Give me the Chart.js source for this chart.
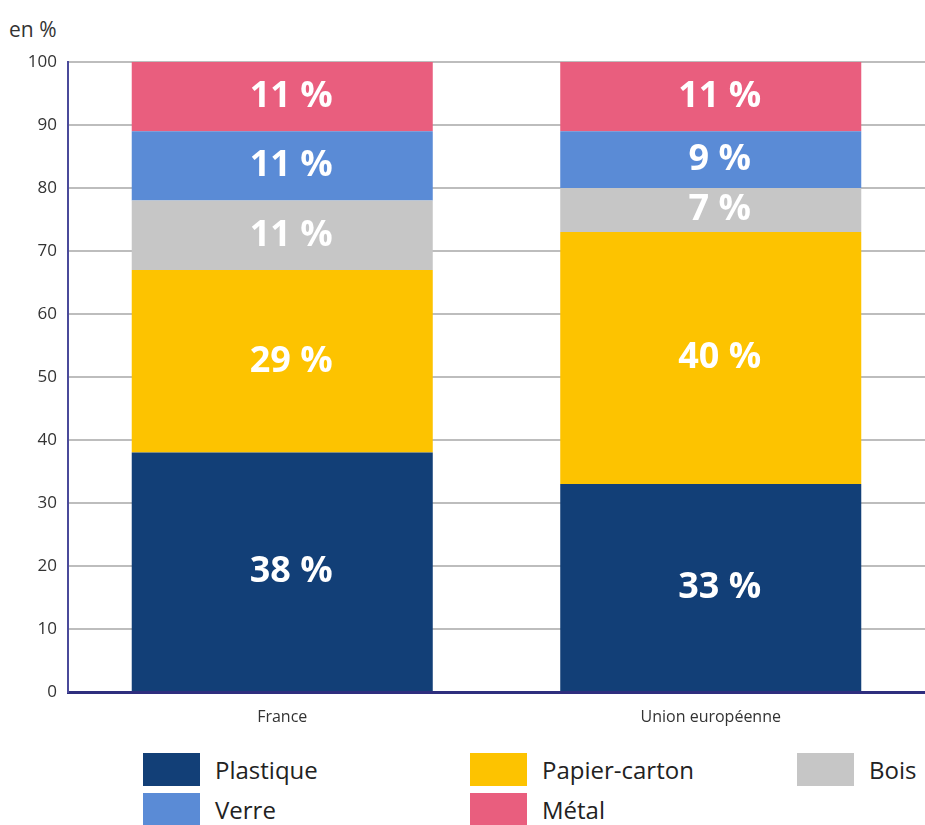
<!DOCTYPE html>
<html lang="fr">
<head>
<meta charset="utf-8">
<script src="https://cdn.jsdelivr.net/npm/chart.js@4/dist/chart.umd.min.js"></script>
<style>
  html, body { margin: 0; padding: 0; background: #fff; overflow: hidden; }
  body { width: 925px; height: 825px; position: relative; font-family: 'Open Sans', sans-serif; }
  #unit { position: absolute; left: 9px; top: 15px; font-size: 21px; color: #333; }
  #wrap { position: absolute; left: 0; top: 0; width: 925px; height: 740px; }
  #legend { position: absolute; left: 143px; top: 753px; display: grid;
            grid-template-columns: 327px 327px 140px; row-gap: 7px; }
  .item { display: flex; align-items: center; height: 33px; }
  .box { width: 57px; height: 33px; margin-right: 15px; flex: none; }
  .lab { font-size: 24px; color: #222; white-space: nowrap; }
</style>
</head>
<body>
<div id="unit">en %</div>
<div id="wrap"><canvas id="chart-waste"></canvas></div>
<div id="legend"></div>

<script>
// categories and series (share of packaging waste, %)
const zones = ['France', 'Union européenne'];
const materials = ['Plastique', 'Papier-carton', 'Bois', 'Verre', 'Métal'];
const plastique = [38, 33];
const papierCarton = [29, 40];
const bois = [11, 7];
const verre = [11, 9];
const metal = [11, 11];
const colors = ['#123f77', '#fdc300', '#c6c6c6', '#5a8bd6', '#e95e7e'];
const yTicks = [0, 10, 20, 30, 40, 50, 60, 70, 80, 90, 100];

const series = [plastique, papierCarton, bois, verre, metal];

// white labels in each segment
const segmentLabels = {
  id: 'segmentLabels',
  afterDatasetsDraw(chart) {
    const ctx = chart.ctx;
    ctx.save();
    ctx.fillStyle = '#fff';
    ctx.font = 'bold 36px "Open Sans"';
    ctx.textAlign = 'center';
    ctx.textBaseline = 'middle';
    chart.data.datasets.forEach((ds, i) => {
      chart.getDatasetMeta(i).data.forEach((bar, j) => {
        const p = bar.getProps(['x', 'y', 'base'], true);
        ctx.fillText(ds.data[j] + ' %', p.x + 9, (p.y + p.base) / 2);
      });
    });
    ctx.restore();
  }
};

new Chart(document.getElementById('chart-waste'), {
  type: 'bar',
  data: {
    labels: zones,
    datasets: materials.map((m, i) => ({
      label: m,
      data: series[i],
      backgroundColor: colors[i],
      borderWidth: 0,
      barPercentage: 0.7025,
      categoryPercentage: 1
    }))
  },
  options: {
    responsive: true,
    maintainAspectRatio: false,
    animation: false,
    layout: { padding: { top: 62, left: 0, right: 0, bottom: 0 } },
    plugins: {
      legend: { display: false },
      tooltip: { enabled: false }
    },
    scales: {
      x: {
        stacked: true,
        grid: { display: false },
        border: { display: true, color: '#2e2e7e', width: 3 },
        ticks: { color: '#333', font: { family: 'Open Sans', size: 16 }, padding: 8 },
        afterFit: (s) => { s.height = 48; }
      },
      y: {
        stacked: true,
        min: 0,
        max: 100,
        afterBuildTicks: (s) => { s.ticks = yTicks.map(v => ({ value: v })); },
        grid: {
          color: (c) => c.tick && c.tick.value === 0 ? 'rgba(0,0,0,0)' : '#bdbdbd',
          lineWidth: 2,
          drawTicks: false
        },
        border: { display: true, color: '#4a4a9a', width: 2 },
        ticks: { color: '#333', font: { family: 'Open Sans', size: 17 }, padding: 11 },
        afterFit: (s) => { s.width = 68; }
      }
    }
  },
  plugins: [segmentLabels]
});

// legend, three columns
const legend = document.getElementById('legend');
materials.forEach((m, i) => {
  const el = document.createElement('div');
  el.className = 'item';
  el.innerHTML = '<span class="box" style="background:' + colors[i] + '"></span><span class="lab">' + m + '</span>';
  legend.appendChild(el);
});
</script>
</body>
</html>
